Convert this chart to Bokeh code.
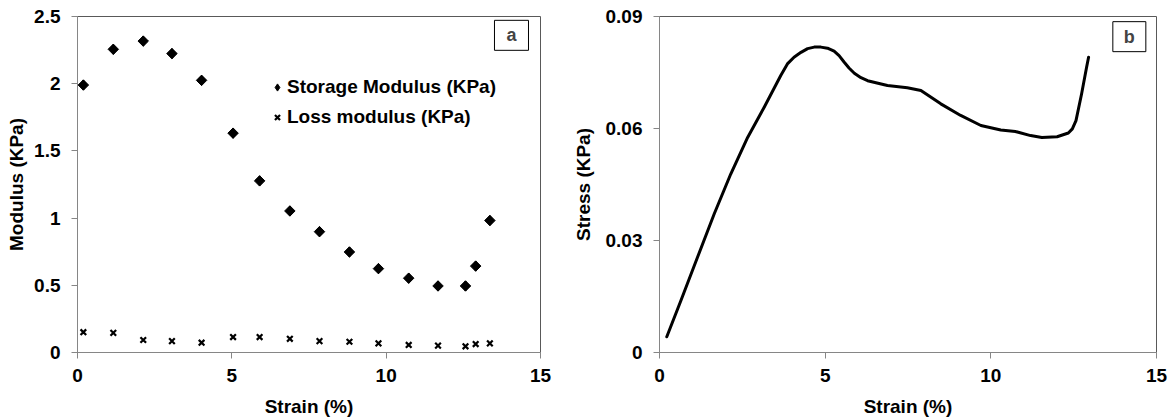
import math
from bokeh.plotting import figure
from bokeh.layouts import row
from bokeh.models import FixedTicker, Legend, LegendItem, Label, Range1d
from bokeh.embed import file_html
from bokeh.resources import INLINE

# ---- Panel a data ----
strain_a = [0.19, 1.16, 2.13, 3.06, 4.02, 5.04, 5.90, 6.88, 7.84, 8.81, 9.75, 10.73, 11.68, 12.57, 12.90, 13.36]
storage_modulus = [1.99, 2.256, 2.317, 2.224, 2.025, 1.632, 1.277, 1.053, 0.899, 0.748, 0.624, 0.553, 0.495, 0.495, 0.643, 0.982]
loss_modulus = [0.151, 0.146, 0.093, 0.085, 0.073, 0.115, 0.115, 0.102, 0.085, 0.080, 0.068, 0.056, 0.051, 0.046, 0.063, 0.068]

# ---- Panel b data ----
strain_b = [0.22, 0.644, 1.147, 1.65, 2.15, 2.66, 3.16, 3.66, 3.86, 4.06, 4.27, 4.47, 4.67, 4.87, 5.07,
            5.27, 5.42, 5.57, 5.72, 5.88, 6.08, 6.28, 6.88, 7.48, 7.89, 8.49, 9.09, 9.70, 10.30, 10.74,
            11.20, 11.54, 12.00, 12.34, 12.46, 12.57, 12.74, 12.89, 12.95]
stress_b = [0.0042, 0.01385, 0.0255, 0.0371, 0.0478, 0.0576, 0.0657, 0.0742, 0.0773, 0.0791, 0.0804,
            0.0814, 0.0818, 0.0818, 0.0815, 0.0807, 0.0795, 0.0778, 0.0762, 0.0748, 0.0736, 0.0728,
            0.0715, 0.0709, 0.0702, 0.0666, 0.0635, 0.0608, 0.0596, 0.0592, 0.0581, 0.0576, 0.0578,
            0.0588, 0.0599, 0.0621, 0.0693, 0.0764, 0.0791]

x_ticks = [0, 5, 10, 15]
x_tick_labels = ["0", "5", "10", "15"]
ya_ticks = [0, 0.5, 1, 1.5, 2, 2.5]
ya_tick_labels = ["0", "0.5", "1", "1.5", "2", "2.5"]
yb_ticks = [0, 0.03, 0.06, 0.09]
yb_tick_labels = ["0", "0.03", "0.06", "0.09"]

FONT = "Liberation Sans"
AXIS_GRAY = "#868686"


def style(p, xlabel, ylabel, xt, xtl, yt, ytl, ytitle_standoff):
    p.xgrid.visible = False
    p.ygrid.visible = False
    p.outline_line_color = "#595959"
    p.outline_line_width = 1
    p.background_fill_color = "white"
    p.border_fill_color = "white"
    p.xaxis.ticker = FixedTicker(ticks=xt)
    p.xaxis.major_label_overrides = {t: l for t, l in zip(xt, xtl)}
    p.yaxis.ticker = FixedTicker(ticks=yt)
    p.yaxis.major_label_overrides = {t: l for t, l in zip(yt, ytl)}
    p.xaxis.axis_label = xlabel
    p.yaxis.axis_label = ylabel
    for ax in (p.xaxis[0], p.yaxis[0]):
        ax.axis_line_color = AXIS_GRAY
        ax.axis_line_width = 1
        ax.major_tick_line_color = AXIS_GRAY
        ax.major_tick_out = 6
        ax.major_tick_in = 0
        ax.minor_tick_line_color = None
        ax.major_label_text_font = FONT
        ax.major_label_text_font_size = "19px"
        ax.major_label_text_font_style = "bold"
        ax.major_label_text_color = "black"
        ax.axis_label_text_font = FONT
        ax.axis_label_text_font_size = "19px"
        ax.axis_label_text_font_style = "bold"
        ax.axis_label_text_color = "black"
    p.xaxis[0].major_label_standoff = 10
    p.xaxis[0].axis_label_standoff = 11
    p.yaxis[0].major_label_standoff = 11
    p.yaxis[0].axis_label_standoff = ytitle_standoff


# ---- Panel a ----
p1 = figure(width=565, height=419, output_backend="svg", toolbar_location=None,
            x_range=Range1d(0, 15), y_range=Range1d(0, 2.5))
p1.min_border = 0
p1.min_border_left = 77
p1.min_border_right = 25
p1.min_border_top = 11
p1.min_border_bottom = 66
style(p1, "Strain (%)", "Modulus (KPa)", x_ticks, x_tick_labels, ya_ticks, ya_tick_labels, 4)

# diamond renderer (used for the legend key), covered by the wider rotated-square markers
r_sto_key = p1.scatter(strain_a, storage_modulus, marker="diamond", size=10, color="black")
r_sto = p1.scatter(strain_a, storage_modulus, marker="square", angle=math.pi / 4, size=7.4, color="black")
r_los = p1.scatter(strain_a, loss_modulus, marker="x", size=8, line_width=2.2, color="black")

legend = Legend(
    items=[LegendItem(label="Storage Modulus (KPa)", renderers=[r_sto_key]),
           LegendItem(label="Loss modulus (KPa)", renderers=[r_los])],
    location=(191, 224), glyph_width=18, glyph_height=22, label_height=22,
    label_standoff=1, spacing=8, padding=0, margin=0,
    border_line_color=None, background_fill_alpha=0,
    label_text_font=FONT, label_text_font_size="19px", label_text_font_style="bold",
    label_text_color="black",
)
p1.add_layout(legend)

p1.add_layout(Label(x=14.06, y=2.36, text="a", text_align="center", text_baseline="middle",
                    text_font=FONT, text_font_size="18px", text_font_style="bold",
                    border_line_color="black", border_line_width=1,
                    background_fill_color="white", padding=dict(x=12, y=5)))

# ---- Panel b ----
p2 = figure(width=607, height=419, output_backend="svg", toolbar_location=None,
            x_range=Range1d(0, 15), y_range=Range1d(0, 0.09))
p2.min_border = 0
p2.min_border_left = 94
p2.min_border_right = 16
p2.min_border_top = 16
p2.min_border_bottom = 67
style(p2, "Strain (%)", "Stress (KPa)", x_ticks, x_tick_labels, yb_ticks, yb_tick_labels, 9)

p2.line(strain_b, stress_b, line_width=3, color="black", line_join="round", line_cap="round")

p2.add_layout(Label(x=14.18, y=0.0846, text="b", text_align="center", text_baseline="middle",
                    text_font=FONT, text_font_size="18px", text_font_style="bold",
                    border_line_color="black", border_line_width=1,
                    background_fill_color="white", padding=dict(x=11, y=5)))

layout = row(p1, p2, spacing=0)
open("out.html", "w").write(file_html(layout, INLINE))
